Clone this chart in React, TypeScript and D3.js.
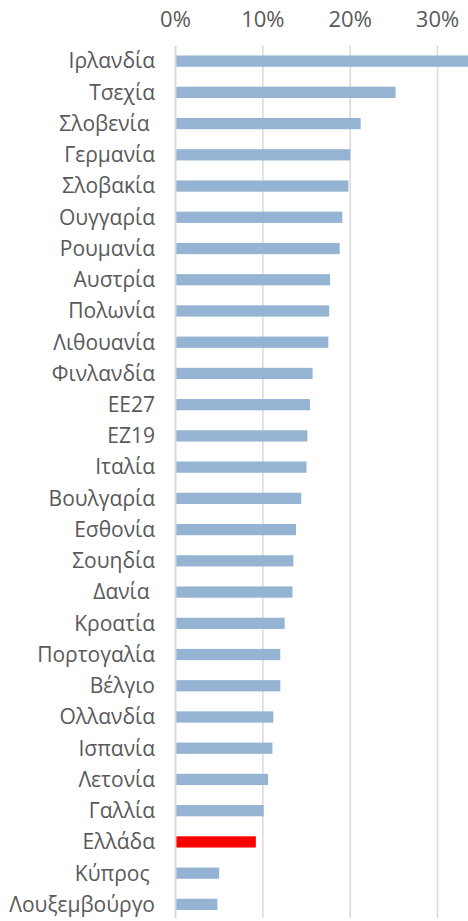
import React from "react";
import * as d3 from "d3";

const countries = [
  "Ιρλανδία", "Τσεχία", "Σλοβενία ", "Γερμανία", "Σλοβακία", "Ουγγαρία", "Ρουμανία",
  "Αυστρία", "Πολωνία", "Λιθουανία", "Φινλανδία", "ΕΕ27", "ΕΖ19", "Ιταλία",
  "Βουλγαρία", "Εσθονία", "Σουηδία", "Δανία ", "Κροατία", "Πορτογαλία", "Βέλγιο",
  "Ολλανδία", "Ισπανία", "Λετονία", "Γαλλία", "Ελλάδα", "Κύπρος ", "Λουξεμβούργο",
];
const values = [
  0.34, 0.252, 0.212, 0.2, 0.198, 0.191, 0.188,
  0.177, 0.176, 0.175, 0.157, 0.154, 0.151, 0.15,
  0.144, 0.138, 0.135, 0.134, 0.125, 0.12, 0.12,
  0.112, 0.111, 0.106, 0.101, 0.092, 0.05, 0.048,
];
const highlight = "Ελλάδα";
const ticks = [0, 0.1, 0.2, 0.3];

const W = 468;
const H = 921;

export default function App() {
  const x = d3.scaleLinear().domain([0, 0.3]).range([175.5, 437.5]);
  const y = d3
    .scaleBand<string>()
    .domain(countries)
    .range([45.5, 920])
    .paddingInner(0.64)
    .paddingOuter(0.32);
  const fmt = d3.format(".0%");
  return (
    <svg
      width={W}
      height={H}
      style={{ position: "absolute", left: 0, top: 0, display: "block", background: "#fff" }}
    >
      <defs>
        <clipPath id="plot">
          <rect x={0} y={0} width={W} height={H} />
        </clipPath>
      </defs>
      {ticks.slice(1).map((t) => (
        <line key={t} x1={x(t)} x2={x(t)} y1={46} y2={918} stroke="#d9d9d9" strokeWidth={1.5} />
      ))}
      {ticks.map((t) => (
        <text
          key={"l" + t}
          x={x(t)}
          y={27}
          textAnchor="middle"
          fontFamily="Open Sans"
          fontSize={22}
          fill="#595959"
        >
          {fmt(t)}
        </text>
      ))}
      <g clipPath="url(#plot)">
        {countries.map((c, i) => (
          <rect
            key={c}
            x={x(0)}
            y={y(c)}
            width={x(values[i]) - x(0)}
            height={y.bandwidth()}
            fill={c === highlight ? "#ff0000" : "#95b3d3"}
          />
        ))}
      </g>
      <line x1={x(0)} x2={x(0)} y1={46} y2={918} stroke="#d9d9d9" strokeWidth={2} />
      {countries.map((c) => (
        <text
          key={"t" + c}
          x={155}
          y={(y(c) as number) + y.bandwidth() / 2}
          dy="0.35em"
          textAnchor="end"
          fontFamily="Open Sans"
          fontSize={21}
          fill="#595959"
          style={{ whiteSpace: "pre" }}
        >
          {c}
        </text>
      ))}
    </svg>
  );
}
